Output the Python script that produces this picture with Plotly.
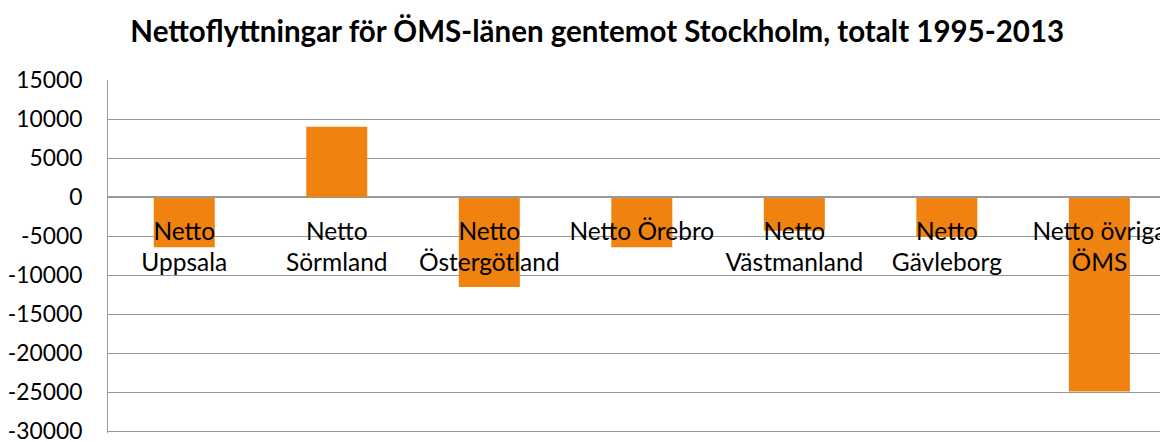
import plotly.graph_objects as go

categories = ["Netto<br>Uppsala", "Netto<br>Sörmland", "Netto<br>Östergötland", "Netto Örebro",
              "Netto<br>Västmanland", "Netto<br>Gävleborg", "Netto övriga<br>ÖMS"]
values = [-6400, 9000, -11500, -6400, -4300, -5100, -24900]
y_ticks = [15000, 10000, 5000, 0, -5000, -10000, -15000, -20000, -25000, -30000]

FONT = "Lato"
GRID = "#999999"
Y_MIN, Y_MAX = -30200, 15000

fig = go.Figure(go.Bar(x=list(range(len(categories))), y=values, marker_color="#F0820F",
                       marker_line_width=0, width=0.4, cliponaxis=False))

# page body has an 8px default margin, so the figure is sized/offset to compensate
fig.update_layout(
    width=1160, height=442,
    margin=dict(l=100, r=0, t=72, b=16.5, autoexpand=False),
    paper_bgcolor="white", plot_bgcolor="white",
    showlegend=False,
    title=dict(text="<b>Nettoflyttningar för ÖMS-länen gentemot Stockholm, totalt 1995-2013</b>",
               x=0.508, xanchor="center", y=1 - 24 / 442, yanchor="middle",
               font=dict(family=FONT, size=29.5, color="black")),
    font=dict(family=FONT, size=24.5, color="black"),
)
fig.update_xaxes(
    tickmode="array", tickvals=list(range(len(categories))), ticktext=categories,
    range=[-0.5, 6.45], anchor="free", position=-Y_MIN / (Y_MAX - Y_MIN), automargin=False,
    showline=True, linecolor=GRID, linewidth=1, ticks="", showgrid=False,
    ticklabelstandoff=12, tickfont=dict(family=FONT, size=24.5, color="black"),
)
fig.update_yaxes(
    range=[Y_MIN, Y_MAX], tickvals=y_ticks, ticktext=[str(v) for v in y_ticks],
    automargin=False, ticklabeloverflow="allow",
    showgrid=True, gridcolor=GRID, gridwidth=1, zeroline=True, zerolinecolor=GRID,
    showline=True, linecolor=GRID, linewidth=1, ticks="outside", ticklen=0,
    ticklabelstandoff=20, tickfont=dict(family=FONT, size=22.8, color="black"),
)
fig.write_html("out.html")
